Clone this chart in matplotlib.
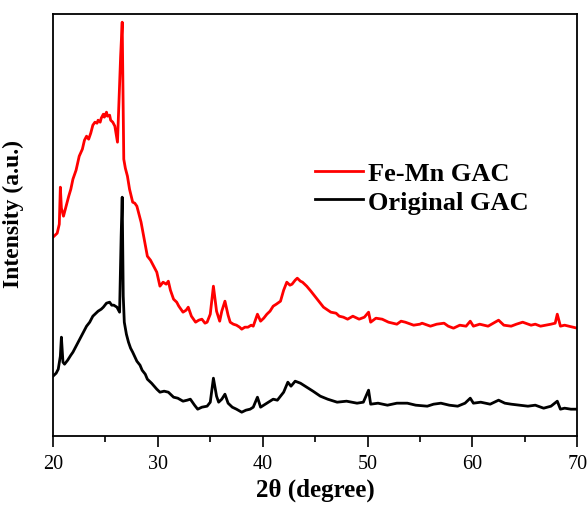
import numpy as np
import matplotlib
matplotlib.use('Agg')
from matplotlib import pyplot as plt
from matplotlib.ticker import MultipleLocator

plt.rcParams['font.family'] = ['Liberation Serif', 'DejaVu Serif']

# Fe-Mn GAC, 2theta (degree) vs intensity (a.u.)
femn_x = [20.0, 20.2, 20.4, 20.6, 20.7, 20.8, 21.0, 21.3, 21.5, 21.7, 21.9,
          22.2, 22.5, 22.8, 23.0, 23.2, 23.4, 23.6, 23.8, 24.0, 24.2, 24.3,
          24.5, 24.6, 24.8, 24.9, 25.1, 25.2, 25.4, 25.5, 25.7, 25.9, 26.15,
          26.45, 26.6, 26.75, 26.9, 27.1, 27.3, 27.6, 27.8, 28.0, 28.2, 28.4,
          28.7, 29.0, 29.3, 29.5, 29.7, 29.9, 30.2, 30.5, 30.8, 31.0, 31.2,
          31.5, 31.8, 32.0, 32.2, 32.4, 32.7, 32.9, 33.2, 33.6, 33.9, 34.2,
          34.5, 34.7, 35.0, 35.3, 35.6, 35.9, 36.1, 36.4, 36.7, 36.9, 37.2,
          37.5, 37.8, 38.0, 38.3, 38.6, 38.9, 39.1, 39.5, 39.8, 40.1, 40.4,
          40.7, 41.0, 41.3, 41.7, 42.0, 42.3, 42.6, 42.8, 43.1, 43.3, 43.6,
          43.8, 44.2, 44.6, 45.2, 45.8, 46.5, 47.0, 47.3, 47.7, 48.1, 48.6,
          49.2, 49.7, 50.1, 50.3, 50.8, 51.4, 52.0, 52.8, 53.2, 53.6, 54.4,
          55.0, 55.2, 56.0, 56.6, 57.3, 57.7, 58.2, 58.8, 59.4, 59.8, 60.1,
          60.7, 61.5, 62.0, 62.5, 63.0, 63.7, 64.2, 64.8, 65.6, 66.0, 66.5,
          67.0, 67.5, 67.9, 68.1, 68.4, 68.8, 69.2, 69.6, 70.0]
femn_y = [199, 201, 203, 212, 249, 228, 220, 232, 240, 247, 257,
          266, 280, 287, 296, 300, 297, 303, 311, 314, 313, 316,
          314, 318, 322, 319, 324, 320, 321, 316, 314, 310, 294,
          380, 414, 277, 268, 260, 247, 234, 233, 230, 222, 214,
          197, 180, 176, 172, 168, 164, 150, 154, 152, 155, 146,
          137, 134, 130, 127, 124, 126, 129, 120, 114, 116, 117,
          113, 114, 122, 150, 125, 115, 125, 135, 121, 114, 112,
          111, 109, 107, 109, 109, 111, 110, 122, 115, 118, 122,
          125, 130, 132, 135, 146, 154, 151, 152, 156, 158, 155,
          154, 150, 145, 137, 129, 124, 123, 120, 119, 117, 120,
          117, 119, 124, 114, 118, 117, 114, 112, 115, 114, 111,
          112, 113, 110, 112, 113, 110, 108, 111, 110, 115, 110,
          112, 110, 113, 116, 111, 110, 112, 114, 111, 112, 110,
          111, 112, 113, 122, 110, 111, 110, 109, 108]

# Original GAC
orig_x = [20.0, 20.3, 20.5, 20.7, 20.8, 20.95, 21.1, 21.4, 21.7, 21.9, 22.2,
          22.5, 22.9, 23.2, 23.5, 23.8, 24.0, 24.3, 24.6, 24.8, 25.1, 25.4,
          25.6, 25.8, 26.1, 26.35, 26.5, 26.6, 26.7, 26.8, 27.0, 27.2, 27.4,
          27.6, 28.0, 28.3, 28.5, 28.8, 29.0, 29.4, 29.9, 30.2, 30.6, 31.0,
          31.5, 31.9, 32.4, 32.8, 33.1, 33.5, 33.8, 34.2, 34.7, 35.0, 35.3,
          35.6, 35.8, 36.1, 36.4, 36.7, 37.1, 37.5, 38.0, 38.4, 38.8, 39.1,
          39.5, 39.8, 40.1, 40.4, 40.7, 41.0, 41.4, 41.7, 42.0, 42.4, 42.7,
          43.1, 43.6, 44.2, 44.8, 45.5, 46.2, 47.1, 48.0, 49.0, 49.6, 50.1,
          50.3, 51.0, 51.9, 52.8, 53.8, 54.6, 55.7, 56.3, 57.0, 57.8, 58.6,
          59.3, 59.8, 60.1, 60.8, 61.7, 62.5, 63.1, 63.7, 64.5, 65.3, 66.0,
          66.8, 67.5, 68.1, 68.4, 68.8, 69.4, 70.0]
orig_y = [60, 63, 67, 80, 99, 74, 72, 76, 81, 84, 90,
          96, 104, 110, 114, 120, 122, 125, 127, 129, 133, 134,
          131, 131, 129, 124, 200, 239, 140, 114, 102, 94, 88,
          84, 75, 71, 66, 62, 57, 53, 47, 44, 45, 44,
          39, 38, 35, 36, 37, 31, 27, 29, 30, 34, 58,
          40, 34, 37, 42, 33, 29, 27, 24, 26, 27, 29,
          39, 29, 31, 33, 35, 37, 36, 40, 44, 54, 50,
          55, 53, 49, 45, 40, 37, 34, 35, 33, 34, 46,
          32, 33, 31, 33, 33, 31, 30, 32, 33, 31, 30,
          33, 38, 33, 34, 32, 36, 33, 32, 31, 30, 31,
          28, 30, 35, 27, 28, 27, 27]

x_ticks = [20, 30, 40, 50, 60, 70]

fig = plt.figure(figsize=(5.87, 5.06), dpi=100)
ax = fig.add_axes([0.0903, 0.136, 0.893, 0.834])

ax.plot(femn_x, femn_y, color='#ff0000', lw=2.0, label='Fe-Mn GAC')
ax.plot(orig_x, orig_y, color='black', lw=2.0, label='Original GAC')

ax.set_xlim(20, 70)
ax.set_ylim(0, 422)
ax.set_xticks(x_ticks)
ax.xaxis.set_minor_locator(MultipleLocator(5))
ax.set_yticks([])
ax.tick_params(axis='x', which='major', direction='out', length=8, width=1.2,
               labelsize=14.5, pad=5)
ax.tick_params(axis='x', which='minor', direction='out', length=4, width=1.2)
for s in ax.spines.values():
    s.set_linewidth(1.3)

ax.set_xlabel('2θ (degree)', fontsize=18, fontweight='bold')
ax.xaxis.set_label_coords(0.5, -0.097)
ax.set_ylabel('Intensity (a.u.)', fontsize=17, fontweight='bold')
ax.yaxis.set_label_coords(-0.055, 0.53)

leg = ax.legend(loc='upper left', bbox_to_anchor=(0.5, 0.651), frameon=False,
                prop={'family': 'Liberation Serif', 'weight': 'bold', 'size': 19},
                handlelength=1.8, handletextpad=0.2, labelspacing=0.2,
                borderaxespad=0, borderpad=0)

fig.savefig('out.png', dpi=100)
